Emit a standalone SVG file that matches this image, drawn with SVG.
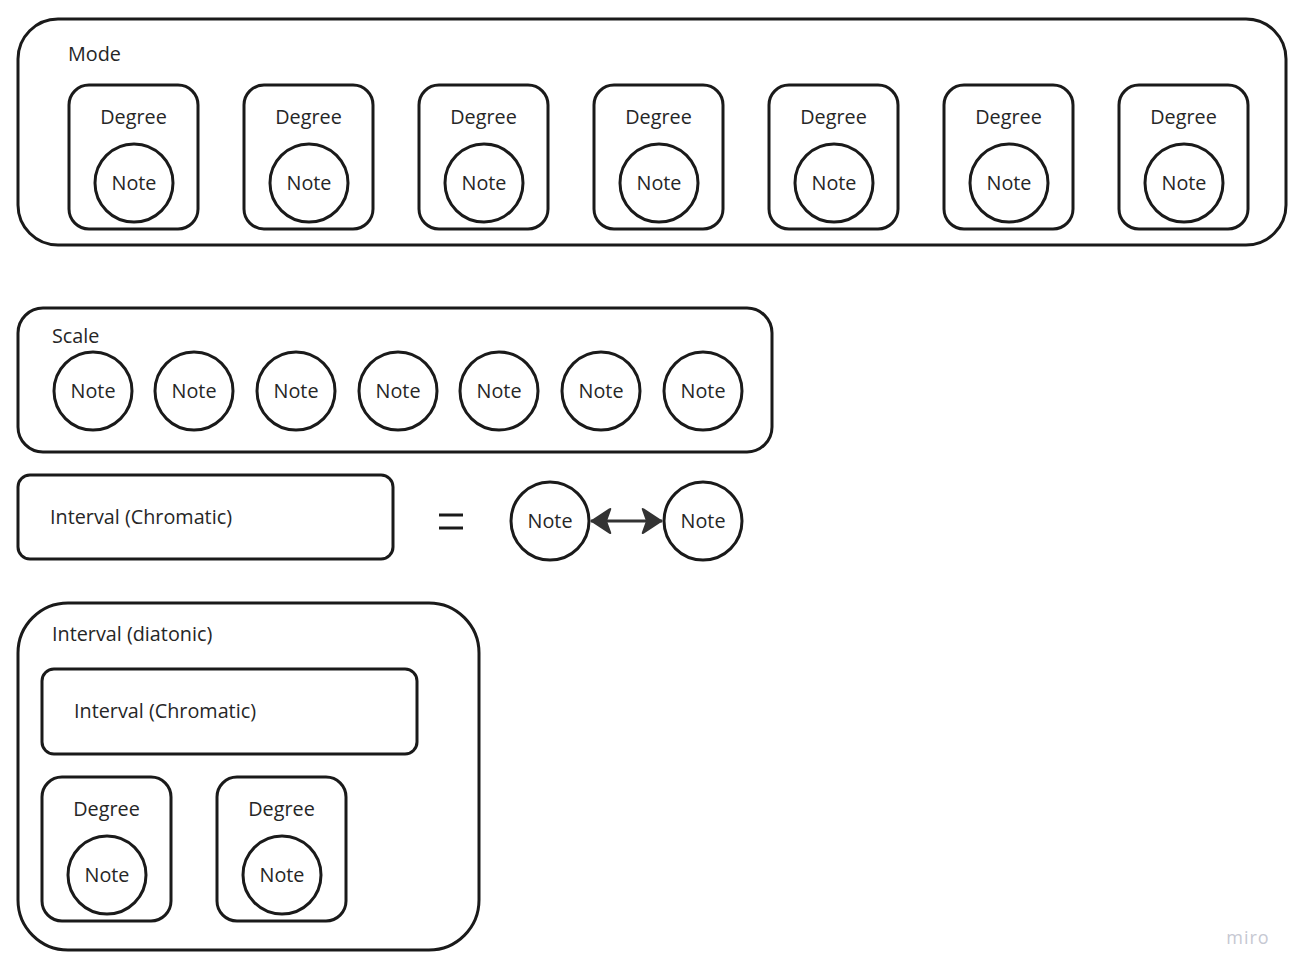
<svg xmlns="http://www.w3.org/2000/svg" width="1298" height="975" viewBox="0 0 1298 975">
<defs>
<style>
.box{fill:#fff;stroke:#1a1a1a;stroke-width:3}
.t{font-family:"Open Sans","Noto Sans","Liberation Sans",sans-serif;font-size:19.8px;fill:#262626}
.c{text-anchor:middle}
</style>
<g id="deg">
<rect class="box" x="0" y="0" width="129" height="144" rx="20"/>
<text class="t c" x="64.5" y="39">Degree</text>
<circle class="box" cx="65" cy="98" r="39"/>
<text class="t c" x="65" y="105">Note</text>
</g>
<g id="note">
<circle class="box" cx="0" cy="0" r="39"/>
<text class="t c" x="0" y="7">Note</text>
</g>
<marker id="ah" viewBox="0 0 22 28" refX="21" refY="14" markerWidth="22" markerHeight="28" markerUnits="userSpaceOnUse" orient="auto-start-reverse">
<path d="M22,14 L3,1.5 Q0,0 1,3 L5,14 L1,25 Q0,28 3,26.5 Z" fill="#333"/>
</marker>
</defs>
<rect width="1298" height="975" fill="#fff"/>

<g id="mode">
<rect class="box" x="18" y="19" width="1268" height="226" rx="40"/>
<text class="t" x="68" y="61">Mode</text>
<use href="#deg" x="69" y="85"/>
<use href="#deg" x="244" y="85"/>
<use href="#deg" x="419" y="85"/>
<use href="#deg" x="594" y="85"/>
<use href="#deg" x="769" y="85"/>
<use href="#deg" x="944" y="85"/>
<use href="#deg" x="1119" y="85"/>
</g>

<g id="scale">
<rect class="box" x="18" y="308" width="754" height="144" rx="25"/>
<text class="t" x="52" y="343">Scale</text>
<use href="#note" x="93" y="391"/>
<use href="#note" x="194" y="391"/>
<use href="#note" x="296" y="391"/>
<use href="#note" x="398" y="391"/>
<use href="#note" x="499" y="391"/>
<use href="#note" x="601" y="391"/>
<use href="#note" x="703" y="391"/>
</g>

<g id="interval-chromatic">
<rect class="box" x="18" y="475" width="375" height="84" rx="12"/>
<text class="t" x="50" y="524">Interval (Chromatic)</text>
</g>

<g id="equals">
<line x1="439" y1="515" x2="463" y2="515" stroke="#1a1a1a" stroke-width="3"/>
<line x1="439" y1="528" x2="463" y2="528" stroke="#1a1a1a" stroke-width="3"/>
</g>

<g id="note-a"><use href="#note" x="550" y="521"/></g>
<g id="note-b"><use href="#note" x="703" y="521"/></g>

<g id="connectors">
<line x1="591" y1="521" x2="662" y2="521" stroke="#333" stroke-width="3" marker-start="url(#ah)" marker-end="url(#ah)"/>
</g>

<g id="interval-diatonic">
<rect class="box" x="18" y="603" width="461" height="347" rx="50"/>
<text class="t" x="52" y="641">Interval (diatonic)</text>
<rect class="box" x="42" y="669" width="375" height="85" rx="12"/>
<text class="t" x="74" y="718">Interval (Chromatic)</text>
<use href="#deg" x="42" y="777"/>
<use href="#deg" x="217" y="777"/>
</g>

<text x="1248" y="944" text-anchor="middle" font-family="Open Sans, Noto Sans, sans-serif" font-size="18" fill="#c6c8d2" letter-spacing="1">miro</text>
</svg>
